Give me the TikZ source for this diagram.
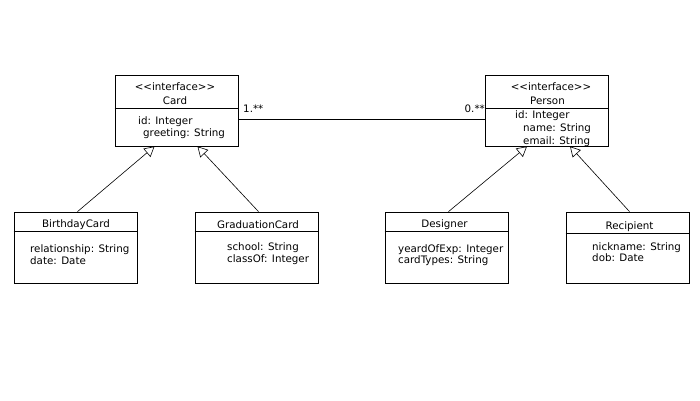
\documentclass[tikz,border=0pt]{standalone}
\usepackage{fontspec}
\setmainfont{DejaVu Sans}
\usetikzlibrary{arrows.meta}

\newcommand{\stereo}[1]{<\kern0pt<#1>\kern0pt>}

\begin{document}
\begin{tikzpicture}[x=1pt,y=-1pt,
	cls/.style={draw,line width=.8pt,minimum width=123pt,minimum height=71pt,inner sep=0pt},
	txt/.style={inner sep=0pt,font=\fontsize{10.3}{12}\selectfont,text height=7pt,text depth=2pt,yshift=-1.5pt},
	inh/.style={-{Triangle[open,length=10pt,width=11pt]},line width=.6pt},
	assoc/.style={line width=.8pt}]
	\useasboundingbox (0,0) rectangle (700,400);
	% interfaces
	\node[cls] (card) at (176.5,110.5) {};
	\draw[line width=.8pt] (card.west |- 0,108) -- (card.east |- 0,108);
	\node[txt] (cardst) at (175,86) {\stereo{interface}};
	\node[txt] (cardnm) at (175,100.5) {Card};
	\node[txt,anchor=west] (cardid) at (138,120) {id: Integer};
	\node[txt,anchor=west] (cardgr) at (143,132) {greeting: String};
	\node[cls] (person) at (547,110.5) {};
	\draw[line width=.8pt] (person.west |- 0,108) -- (person.east |- 0,108);
	\node[txt] (personst) at (551,86) {\stereo{interface}};
	\node[txt] (personnm) at (547.5,100.5) {Person};
	\node[txt,anchor=west] (personid) at (515,114) {id: Integer};
	\node[txt,anchor=west] (personnm2) at (523,127) {name: String};
	\node[txt,anchor=west] (personem) at (523,140) {email: String};
	% association
	\draw[assoc] ([yshift=-8.5pt]card.east) -- ([yshift=-8.5pt]person.west);
	\node[txt,anchor=west] (mcard) at (243,108.5) {1.**};
	\node[txt,anchor=east] (mperson) at (485,108.5) {0.**};
	% classes
	\node[cls] (bday) at (75.5,247.5) {};
	\draw[line width=.8pt] (bday.west |- 0,231) -- (bday.east |- 0,231);
	\node[txt] (bdaynm) at (76,223) {BirthdayCard};
	\node[txt,anchor=west] (bdayrel) at (30,248) {relationship: String};
	\node[txt,anchor=west] (bdaydt) at (30,260) {date: Date};
	\node[cls] (grad) at (256.5,247.5) {};
	\draw[line width=.8pt] (grad.west |- 0,231) -- (grad.east |- 0,231);
	\node[txt] (gradnm) at (258,224) {GraduationCard};
	\node[txt,anchor=west] (gradsc) at (227,246) {school: String};
	\node[txt,anchor=west] (gradcl) at (227,258) {classOf: Integer};
	\node[cls] (designer) at (446.5,247.5) {};
	\draw[line width=.8pt] (designer.west |- 0,231) -- (designer.east |- 0,231);
	\node[txt] (designernm) at (444.5,223) {Designer};
	\node[txt,anchor=west] (designeryr) at (398,248) {yeardOfExp: Integer};
	\node[txt,anchor=west] (designerct) at (398,259) {cardTypes: String};
	\node[cls] (recip) at (627.5,247.5) {};
	\draw[line width=.8pt] (recip.west |- 0,233) -- (recip.east |- 0,233);
	\node[txt] (recipnm) at (629.5,225) {Recipient};
	\node[txt,anchor=west] (recipnn) at (592,246) {nickname: String};
	\node[txt,anchor=west] (recipdb) at (592,257) {dob: Date};
	% generalisations
	\draw[inh] ([xshift=2pt]bday.north) -- ([xshift=-22pt]card.south);
	\draw[inh] ([xshift=2pt]grad.north) -- ([xshift=21pt]card.south);
	\draw[inh] ([xshift=2pt]designer.north) -- ([xshift=-20pt]person.south);
	\draw[inh] ([xshift=2pt]recip.north) -- ([xshift=23pt]person.south);
\end{tikzpicture}
\end{document}
